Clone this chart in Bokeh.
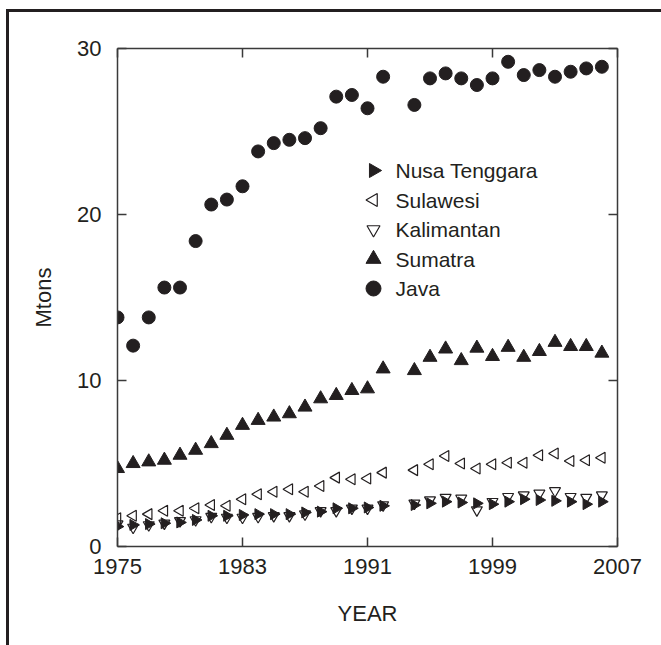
import math
from bokeh.plotting import figure
from bokeh.models import FixedTicker, Range1d, LinearAxis, ColumnDataSource
from bokeh.core.properties import value
from bokeh.embed import file_html
from bokeh.resources import INLINE

years = [1975, 1976, 1977, 1978, 1979, 1980, 1981, 1982, 1983, 1984, 1985, 1986,
         1987, 1988, 1989, 1990, 1991, 1992, 1994, 1995, 1996, 1997, 1998, 1999,
         2000, 2001, 2002, 2003, 2004, 2005, 2006]

java = [13.8, 12.1, 13.8, 15.6, 15.6, 18.4, 20.6, 20.9, 21.7, 23.8, 24.3, 24.5,
        24.6, 25.2, 27.1, 27.2, 26.4, 28.3, 26.6, 28.2, 28.5, 28.2, 27.8, 28.2,
        29.2, 28.4, 28.7, 28.3, 28.6, 28.8, 28.9]

sumatra = [4.7, 5.0, 5.1, 5.2, 5.5, 5.8, 6.2, 6.7, 7.3, 7.6, 7.8, 8.0,
           8.4, 8.9, 9.1, 9.4, 9.5, 10.7, 10.6, 11.4, 11.9, 11.2, 11.95, 11.45,
           12.0, 11.4, 11.75, 12.3, 12.05, 12.05, 11.65]

sulawesi = [1.7, 1.85, 1.95, 2.15, 2.15, 2.3, 2.5, 2.45, 2.85, 3.15, 3.3, 3.45,
            3.3, 3.65, 4.15, 4.05, 4.1, 4.45, 4.6, 4.95, 5.45, 5.0, 4.7, 4.95,
            5.05, 5.05, 5.5, 5.6, 5.15, 5.2, 5.35]

kalimantan = [1.35, 1.15, 1.3, 1.4, 1.55, 1.6, 1.8, 1.75, 1.75, 1.8, 1.85, 1.85,
              1.95, 2.15, 2.15, 2.3, 2.3, 2.5, 2.6, 2.8, 2.95, 2.9, 2.2, 2.7,
              3.0, 3.1, 3.2, 3.35, 3.0, 2.95, 3.1]

nusa = [1.2, 1.3, 1.35, 1.4, 1.45, 1.6, 1.85, 1.85, 1.9, 1.95, 1.95, 1.95,
        2.05, 2.1, 2.3, 2.3, 2.35, 2.45, 2.5, 2.6, 2.7, 2.65, 2.6, 2.55,
        2.7, 2.85, 2.8, 2.75, 2.7, 2.55, 2.7]

series_names = ["Nusa Tenggara", "Sulawesi", "Kalimantan", "Sumatra", "Java"]
x_ticks = [1975, 1983, 1991, 1999, 2007]
y_ticks = [0, 10, 20, 30]

INK = "#231f20"
FONT = "Liberation Sans"

X0, X1, Y0, Y1 = 1975, 2007, 0, 30
FL, FT, FW, FH = 117, 48, 500, 498   # frame left/top/width/height in px

p = figure(frame_width=FW, frame_height=FH,
           min_border_left=FL, min_border_right=661 - FL - FW,
           min_border_top=FT, min_border_bottom=645 - FT - FH,
           x_range=Range1d(X0, X1), y_range=Range1d(Y0, Y1),
           output_backend="svg", toolbar_location=None,
           x_axis_label="YEAR", y_axis_label="Mtons")
p.grid.visible = False
p.outline_line_color = None
p.border_fill_alpha = 0
p.background_fill_color = "white"
p.styles = {
    "background": ("linear-gradient(#231f20,#231f20) 6px 9px / 3px calc(100% - 9px) no-repeat, "
                   "linear-gradient(#231f20,#231f20) 6px 9px / calc(100% - 6px) 3px no-repeat, #ffffff"),
}

def style_axis(ax, ticks, labels=True):
    ax.ticker = FixedTicker(ticks=ticks)
    ax.minor_tick_line_color = None
    ax.major_tick_in = 9
    ax.major_tick_out = 0
    ax.axis_line_color = "#3a3a3a"
    ax.axis_line_width = 1.5
    ax.major_tick_line_color = "#3a3a3a"
    ax.major_tick_line_width = 1.5
    ax.major_label_text_font = FONT
    ax.major_label_text_font_size = "22px"
    ax.major_label_text_color = INK if labels else None
    ax.axis_label_text_font = FONT
    ax.axis_label_text_font_size = "22px"
    ax.axis_label_text_font_style = "normal"
    ax.axis_label_text_color = INK

style_axis(p.xaxis[0], x_ticks)
style_axis(p.yaxis[0], y_ticks)
p.xaxis[0].major_label_standoff = 12
p.xaxis[0].axis_label_standoff = 24
p.yaxis[0].major_label_standoff = 16
p.yaxis[0].axis_label_standoff = 18

top = LinearAxis()
right = LinearAxis()
style_axis(top, x_ticks, labels=False)
style_axis(right, y_ticks, labels=False)
top.major_label_text_font_size = "1px"
right.major_label_text_font_size = "1px"
p.add_layout(top, "above")
p.add_layout(right, "right")

src = ColumnDataSource(dict(year=years, java=java, sumatra=sumatra, sulawesi=sulawesi,
                            kalimantan=kalimantan, nusa=nusa))

p.scatter("year", "java", source=src, marker="circle", size=13,
          fill_color=INK, line_color=INK)
p.scatter("year", "sumatra", source=src, marker="triangle", size=14,
          fill_color=INK, line_color=INK)
p.scatter("year", "sulawesi", source=src, marker="triangle", size=11,
          angle=math.pi / 2, fill_color=None, line_color=INK, line_width=1.2)
p.scatter("year", "kalimantan", source=src, marker="inverted_triangle", size=11,
          fill_color=None, line_color=INK, line_width=1.2)
p.scatter("year", "nusa", source=src, marker="triangle", size=11,
          angle=-math.pi / 2, fill_color=INK, line_color=INK)

# ---- legend (laid out in screen pixels, converted to data space) ----
def sx(px):
    return X0 + (px - FL) / FW * (X1 - X0)

def sy(py):
    return Y1 - (py - FT) / FH * (Y1 - Y0)

leg_marker_px = 373
leg_text_px = 395
leg_top_px = 170
leg_step_px = 29.5
rows = [sy(leg_top_px + i * leg_step_px) for i in range(len(series_names))]
leg_styles = [
    dict(marker="triangle", size=14, angle=-math.pi / 2, fill_color=INK, line_color=INK, line_width=1),
    dict(marker="triangle", size=13, angle=math.pi / 2, fill_color=None, line_color=INK, line_width=1.2),
    dict(marker="inverted_triangle", size=13, angle=0, fill_color=None, line_color=INK, line_width=1.2),
    dict(marker="triangle", size=15, angle=0, fill_color=INK, line_color=INK, line_width=1),
    dict(marker="circle", size=15, angle=0, fill_color=INK, line_color=INK, line_width=1),
]
for row_y, st in zip(rows, leg_styles):
    p.scatter([sx(leg_marker_px)], [row_y], **st)

p.text(x=[sx(leg_text_px)] * len(series_names), y=rows, text=series_names,
       text_font=value(FONT), text_font_size="21px", text_color=INK,
       text_baseline="middle", text_align="left")

open("out.html", "w").write(file_html(p, INLINE))
